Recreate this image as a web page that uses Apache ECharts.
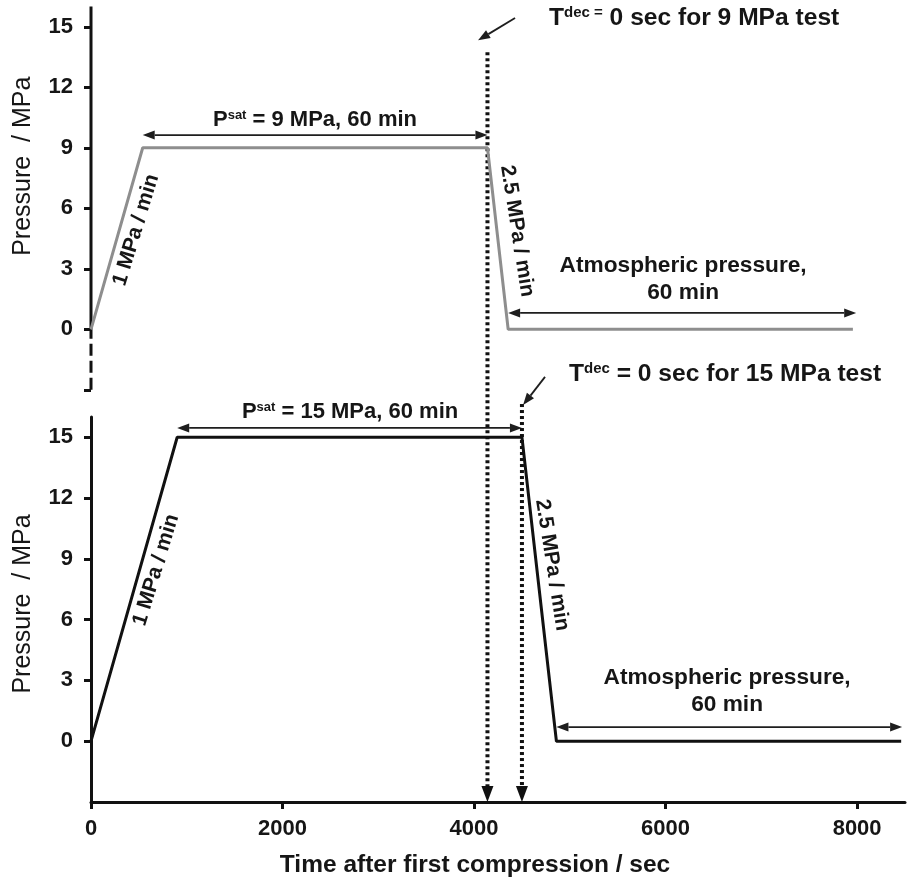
<!DOCTYPE html>
<html>
<head>
<meta charset="utf-8">
<title>Pressure programme</title>
<script src="https://cdn.jsdelivr.net/npm/echarts@6.0.0/dist/echarts.min.js"></script>
<style>
  html, body { margin: 0; padding: 0; background: #fff; }
  #chart { width: 907px; height: 883px; }
</style>
</head>
<body>
<div id="chart"></div>
<script>
// pressure programme of the two tests (time in s, pressure in MPa)
const time9 = [0, 540, 4140, 4356, 7956];
const pressure9 = [0, 9, 9, 0, 0];
const time15 = [0, 900, 4500, 4860, 8460];
const pressure15 = [0, 15, 15, 0, 0];

// start of decompression (T dec = 0) for each test
const tDec9 = 4140;
const tDec15 = 4500;

const timeTicks = [0, 2000, 4000, 6000, 8000];
const pressureTicks = [0, 3, 6, 9, 12, 15];

const ink = '#111';
const txt = '#161616';
const arrowInk = '#1e1e1e';
const font = '"Liberation Sans", Arial, sans-serif';

// arrows and guide lines, in data units of each panel
const arrowsTop = [
  {from: [0, 0], to: [0, 16], width: 3, color: ink},
  {from: [0, -3], to: [0, 0], width: 3, color: ink, dash: [12, 5]},
  {from: [time9[1], 9.63], to: [tDec9, 9.63], head: 'both'},
  {from: [time9[3], 0.81], to: [7990, 0.81], head: 'both'},
  {from: [4428, 15.43], to: [4042, 14.33], head: 'end'}
];
const arrowsBottom = [
  {from: [time15[1], 15.46], to: [tDec15, 15.46], head: 'both'},
  {from: [time15[3], 0.7], to: [8470, 0.7], head: 'both'},
  {from: [4741, 17.98], to: [4512, 16.59], head: 'end'},
  {from: [tDec9, 34], to: [tDec9, -3], head: 'end', width: 4, color: ink, dash: [3, 3], headLen: 16, headW: 6},
  {from: [tDec15, 16.64], to: [tDec15, -3], head: 'end', width: 4, color: ink, dash: [3, 3], headLen: 16, headW: 6}
];

// text notes
const notesTop = [
  {at: [2339, 10.38], text: '{b|P}{s|sat}{b| = 9 MPa, 60 min}'},
  {at: [470, 4.92], rotate: 73, text: '{r|1 MPa / min}'},
  {at: [4449, 4.87], rotate: -81, text: '{r|2.5 MPa / min}'},
  {at: [6183, 2.49], text: '{a|Atmospheric pressure,}\n{a|60 min}'},
  {at: [6298, 15.43], text: '{T|T}{ts|dec =}{T| 0 sec for 9 MPa test}'}
];
const notesBottom = [
  {at: [2705, 16.26], text: '{b|P}{s|sat}{b| = 15 MPa, 60 min}'},
  {at: [679, 8.45], rotate: 73, text: '{r|1 MPa / min}'},
  {at: [4815, 8.69], rotate: -81, text: '{r|2.5 MPa / min}'},
  {at: [6642, 2.48], text: '{a|Atmospheric pressure,}\n{a|60 min}'},
  {at: [6621, 18.12], text: '{T|T}{ts|dec}{T| = 0 sec for 15 MPa test}'}
];

const tok = (size, extra) => Object.assign({fontSize: size, fontWeight: 'bold', fontFamily: font, fill: txt}, extra || {});
const rich = {
  b: tok(22),
  s: tok(13, {verticalAlign: 'top'}),
  r: tok(21),
  a: tok(22.7, {lineHeight: 27}),
  T: tok(24.6),
  ts: tok(15, {verticalAlign: 'top'})
};

const drawArrows = (list) => (params, api) => {
  const a = list[params.dataIndex];
  const p = api.coord([api.value(0), api.value(1)]);
  const q = api.coord([api.value(2), api.value(3)]);
  const len = Math.hypot(q[0] - p[0], q[1] - p[1]) || 1;
  const ux = (q[0] - p[0]) / len, uy = (q[1] - p[1]) / len;
  const hl = a.headLen || 12, hw = a.headW || 4.5;
  const color = a.color || arrowInk;
  const children = [];
  const head = (tip, dx, dy) => {
    const bx = tip[0] - dx * hl, by = tip[1] - dy * hl;
    children.push({
      type: 'polygon',
      shape: {points: [tip, [bx - dy * hw, by + dx * hw], [bx + dy * hw, by - dx * hw]]},
      style: {fill: color}
    });
    return [bx, by];
  };
  let s = p, e = q;
  if (a.head === 'end' || a.head === 'both') e = head(q, ux, uy);
  if (a.head === 'both') s = head(p, -ux, -uy);
  children.unshift({
    type: 'line',
    shape: {x1: s[0], y1: s[1], x2: e[0], y2: e[1]},
    style: {stroke: color, lineWidth: a.width || 1.8, lineDash: a.dash || null, lineCap: 'butt'}
  });
  return {type: 'group', children};
};

const drawNotes = (notes) => (params, api) => {
  const n = notes[params.dataIndex];
  const p = api.coord([api.value(0), api.value(1)]);
  return {
    type: 'text',
    x: p[0],
    y: p[1],
    rotation: (n.rotate || 0) * Math.PI / 180,
    style: {text: n.text, rich, align: 'center', verticalAlign: 'middle', fill: txt}
  };
};

const customSeries = (render, data, idx) => ({
  type: 'custom',
  xAxisIndex: idx,
  yAxisIndex: idx,
  silent: true,
  clip: false,
  renderItem: render,
  data
});

const labelStyle = {fontSize: 22, fontWeight: 'bold', color: txt, fontFamily: font, formatter: v => String(v)};

const chart = echarts.init(document.getElementById('chart'));

chart.setOption({
  animation: false,
  backgroundColor: '#fff',
  grid: [
    {left: 91, right: 2, top: 6.6, height: 383.2, outerBoundsMode: 'none'},
    {left: 91, right: 2, top: 417, height: 385, outerBoundsMode: 'none'}
  ],
  xAxis: [
    {type: 'value', gridIndex: 0, min: 0, max: 8500, show: false},
    {
      type: 'value', gridIndex: 1, min: 0, max: 8500,
      axisLine: {show: true, onZero: false, lineStyle: {color: ink, width: 3}},
      axisTick: {show: true, customValues: timeTicks, length: 7, lineStyle: {color: ink, width: 3}},
      axisLabel: Object.assign({customValues: timeTicks, margin: 16}, labelStyle),
      splitLine: {show: false},
      name: 'Time after first compression / sec',
      nameLocation: 'middle',
      nameGap: 51,
      nameTextStyle: {fontSize: 24.5, fontWeight: 'bold', color: txt, fontFamily: font, padding: [0, 46, 0, 0]}
    }
  ],
  yAxis: [
    {
      type: 'value', gridIndex: 0, min: -3, max: 16,
      axisLine: {show: false},
      axisTick: {show: true, customValues: [-3].concat(pressureTicks), length: 7, lineStyle: {color: ink, width: 3}},
      axisLabel: Object.assign({customValues: pressureTicks, margin: 18}, labelStyle),
      splitLine: {show: false},
      name: 'Pressure  / MPa',
      nameLocation: 'middle',
      nameGap: 55,
      nameTextStyle: {fontSize: 25, color: txt, fontFamily: font, padding: [0, 0, 0, 64]}
    },
    {
      type: 'value', gridIndex: 1, min: -3, max: 16,
      axisLine: {show: true, onZero: false, lineStyle: {color: ink, width: 3}},
      axisTick: {show: true, customValues: pressureTicks, length: 7, lineStyle: {color: ink, width: 3}},
      axisLabel: Object.assign({customValues: pressureTicks, margin: 18}, labelStyle),
      splitLine: {show: false},
      name: 'Pressure  / MPa',
      nameLocation: 'middle',
      nameGap: 55,
      nameTextStyle: {fontSize: 25, color: txt, fontFamily: font, padding: [0, 0, 0, 11]}
    }
  ],
  series: [
    {
      name: '9 MPa test',
      type: 'line',
      xAxisIndex: 0,
      yAxisIndex: 0,
      symbol: 'none',
      silent: true,
      lineStyle: {color: '#8e8e8e', width: 3},
      data: time9.map((t, i) => [t, pressure9[i]])
    },
    {
      name: '15 MPa test',
      type: 'line',
      xAxisIndex: 1,
      yAxisIndex: 1,
      symbol: 'none',
      silent: true,
      lineStyle: {color: ink, width: 3},
      data: time15.map((t, i) => [t, pressure15[i]])
    },
    customSeries(drawArrows(arrowsTop), arrowsTop.map(a => [a.from[0], a.from[1], a.to[0], a.to[1]]), 0),
    customSeries(drawArrows(arrowsBottom), arrowsBottom.map(a => [a.from[0], a.from[1], a.to[0], a.to[1]]), 1),
    customSeries(drawNotes(notesTop), notesTop.map(n => n.at), 0),
    customSeries(drawNotes(notesBottom), notesBottom.map(n => n.at), 1)
  ]
});
</script>
</body>
</html>
